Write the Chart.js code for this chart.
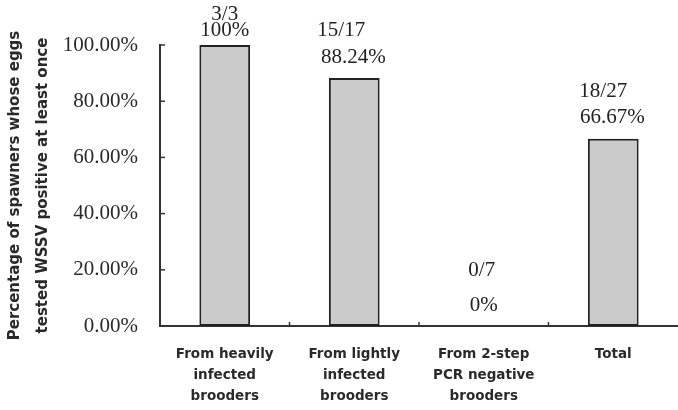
<!DOCTYPE html>
<html>
<head>
<meta charset="utf-8">
<script src="https://cdn.jsdelivr.net/npm/chart.js@4/dist/chart.umd.min.js"></script>
<style>
html,body{margin:0;padding:0;background:#fff;}
canvas{display:block;}
</style>
</head>
<body>
<canvas id="c" width="678" height="410"></canvas>
<script>
const categories = [
  ["From heavily", "infected", "brooders"],
  ["From lightly", "infected", "brooders"],
  ["From 2-step", "PCR negative", "brooders"],
  ["Total"]
];
const percentPositive = [100, 88.24, 0, 66.67];
const fractionLabels = ["3/3", "15/17", "0/7", "18/27"];
const percentLabels = ["100%", "88.24%", "0%", "66.67%"];
const yTickLabels = ["0.00%", "20.00%", "40.00%", "60.00%", "80.00%", "100.00%"];
const yTitle = ["Percentage of spawners whose eggs", "tested WSSV positive at least once"];

const ink = '#2a2a2a';

const overlay = {
  id: 'overlay',
  afterDatasetsDraw(chart) {
    const ctx = chart.ctx;
    const x = chart.scales.x, y = chart.scales.y;
    const area = chart.chartArea;
    ctx.save();
    ctx.strokeStyle = '#333';
    ctx.lineWidth = 1.5;
    y.ticks.forEach(t => {
      if (t.value === 0) return;
      const py = y.getPixelForValue(t.value);
      ctx.beginPath();
      ctx.moveTo(area.left, py);
      ctx.lineTo(area.left + 5, py);
      ctx.stroke();
    });
    for (let i = 1; i < categories.length; i++) {
      const px = (x.getPixelForValue(i - 1) + x.getPixelForValue(i)) / 2;
      ctx.beginPath();
      ctx.moveTo(px, area.bottom);
      ctx.lineTo(px, area.bottom - 4);
      ctx.stroke();
    }
    const fracDy = [-31, -48, -56, -47];
    const pctDy = [-15, -21, -21, -21];
    const fracDx = [0, -13, -2, -10];
    const pctDx = [0, -1, 0, -1];
    ctx.fillStyle = '#222';
    ctx.font = '21px "Liberation Serif", serif';
    ctx.textAlign = 'center';
    ctx.textBaseline = 'middle';
    const meta = chart.getDatasetMeta(0);
    meta.data.forEach((bar, i) => {
      const top = y.getPixelForValue(percentPositive[i]);
      const cx = x.getPixelForValue(i);
      ctx.fillText(fractionLabels[i], cx + fracDx[i], top + fracDy[i]);
      ctx.fillText(percentLabels[i], cx + pctDx[i], top + pctDy[i]);
    });
    ctx.restore();
  }
};

new Chart(document.getElementById('c'), {
  type: 'bar',
  data: {
    labels: categories,
    datasets: [{
      data: percentPositive,
      backgroundColor: '#cbcbcb',
      borderColor: '#222',
      borderWidth: 2,
      borderSkipped: false,
      categoryPercentage: 0.8,
      barPercentage: 0.49
    }]
  },
  options: {
    responsive: false,
    animation: false,
    layout: { padding: { top: 45, left: 0, right: 0, bottom: 0 } },
    plugins: { legend: { display: false }, tooltip: { enabled: false } },
    scales: {
      x: {
        grid: { display: false, drawTicks: false },
        border: { display: true, color: '#333', width: 2 },
        ticks: {
          color: ink,
          padding: 18,
          maxRotation: 0,
          autoSkip: false,
          font: { family: '"DejaVu Sans", sans-serif', size: 13.5, weight: 'bold', lineHeight: 1.55 }
        },
        afterFit(s) { s.height = 84; }
      },
      y: {
        min: 0, max: 100,
        ticks: {
          stepSize: 20,
          color: ink,
          padding: 22,
          font: { family: '"Liberation Serif", serif', size: 21 },
          callback: (v, i) => yTickLabels[i]
        },
        grid: { display: false, drawTicks: false },
        border: { display: true, color: '#333', width: 2 },
        title: {
          display: true,
          text: yTitle,
          color: ink,
          padding: { top: 1, bottom: 0 },
          font: { family: '"DejaVu Sans", sans-serif', size: 15, weight: 'bold', lineHeight: 1.87 }
        },
        afterFit(s) { s.width = 160; }
      }
    }
  },
  plugins: [overlay]
});
</script>
</body>
</html>
